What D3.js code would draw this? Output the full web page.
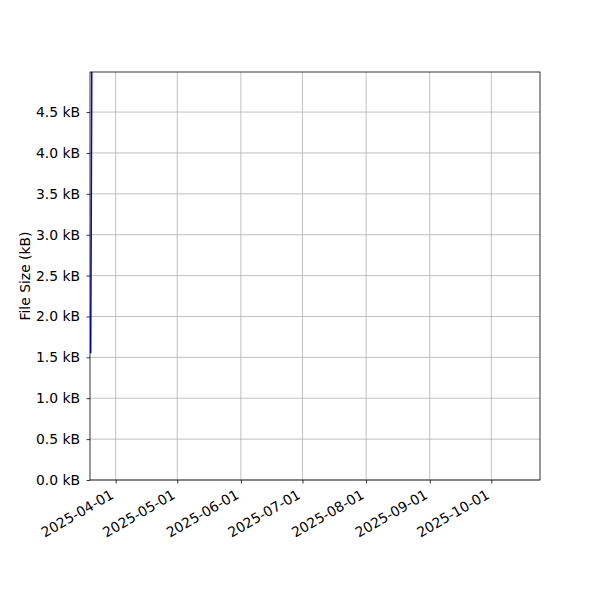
<!DOCTYPE html>
<html lang="en">
<head>
  <meta charset="utf-8">
  <title>File Size</title>
  <script src="https://cdn.jsdelivr.net/npm/d3@7"></script>
  <style>
    body { margin: 0; background: #fff; }
    text { font-family: "DejaVu Sans", sans-serif; }
  </style>
</head>
<body>
  <div class="chart"></div>
  <script>
    // data
    var dates = ["2025-03-19T20:00:00Z", "2025-03-20T02:00:00Z", "2025-03-20T09:00:00Z"];
    var sizes = [1.55, 3.0, 5.05];
    var xDomain = ["2025-03-19T12:00:00Z", "2025-10-24T17:00:00Z"];
    var yDomain = [0, 4.99];
    var yTicks = [0, 0.5, 1, 1.5, 2, 2.5, 3, 3.5, 4, 4.5];
    var xTicks = ["2025-04-01", "2025-05-01", "2025-06-01", "2025-07-01",
      "2025-08-01", "2025-09-01", "2025-10-01"];

    var w = 600, h = 600;
    // plot box (window.top is taken, so no bare "top")
    var pl = 90, pr = 540, pt = 72, pb = 480;
    var fs = 13.9;

    var svg = d3.select('.chart').append('svg')
      .attr('width', w).attr('height', h);

    var x = d3.scaleUtc()
      .domain(xDomain.map(function(d) { return new Date(d); }))
      .range([pl, pr]);
    var y = d3.scaleLinear().domain(yDomain).range([pb, pt]);

    // grid
    svg.append('g').selectAll('line')
      .data(xTicks).enter().append('line')
      .attr('x1', function(d) { return x(new Date(d)); })
      .attr('x2', function(d) { return x(new Date(d)); })
      .attr('y1', pt).attr('y2', pb)
      .attr('stroke', '#b0b0b0').attr('stroke-width', 0.8);
    svg.append('g').selectAll('line')
      .data(yTicks).enter().append('line')
      .attr('y1', function(d) { return y(d); })
      .attr('y2', function(d) { return y(d); })
      .attr('x1', pl).attr('x2', pr)
      .attr('stroke', '#b0b0b0').attr('stroke-width', 0.8);

    // line
    svg.append('clipPath').attr('id', 'clip')
      .append('rect').attr('x', pl).attr('y', pt)
      .attr('width', pr - pl).attr('height', pb - pt);

    var pts = dates.map(function(d, i) { return [new Date(d), sizes[i]]; });
    var line = d3.line()
      .x(function(d) { return x(d[0]); })
      .y(function(d) { return y(d[1]); });
    svg.append('path')
      .datum(pts)
      .attr('clip-path', 'url(#clip)')
      .attr('d', line)
      .attr('fill', 'none')
      .attr('stroke', '#0000ff')
      .attr('stroke-width', 1.5);

    // axes
    var fmt = d3.utcFormat('%Y-%m-%d');
    var xAxis = svg.append('g')
      .attr('transform', 'translate(0,' + pb + ')')
      .call(d3.axisBottom(x)
        .tickValues(xTicks.map(function(d) { return new Date(d); }))
        .tickFormat(fmt).tickSize(3.5).tickPadding(3.5));
    xAxis.selectAll('text')
      .attr('font-size', fs)
      .attr('fill', '#000')
      .attr('text-anchor', 'end')
      .attr('dy', null)
      .attr('y', 0)
      .attr('transform', 'translate(-1.5,' + (7 + 10.5) + ') rotate(-30)');

    var yAxis = svg.append('g')
      .attr('transform', 'translate(' + pl + ',0)')
      .call(d3.axisLeft(y).tickValues(yTicks)
        .tickFormat(function(d) { return d.toFixed(1) + ' kB'; })
        .tickSize(3.5).tickPadding(6.5));
    yAxis.selectAll('text').attr('font-size', fs).attr('fill', '#000');

    [xAxis, yAxis].forEach(function(a) {
      a.select('.domain').remove();
      a.selectAll('.tick line').attr('stroke', '#000').attr('stroke-width', 0.8);
    });

    // frame
    svg.append('rect')
      .attr('x', pl).attr('y', pt)
      .attr('width', pr - pl).attr('height', pb - pt)
      .attr('fill', 'none').attr('stroke', '#000').attr('stroke-width', 0.8);

    svg.append('text')
      .attr('transform', 'translate(30,' + ((pt + pb) / 2) + ') rotate(-90)')
      .attr('text-anchor', 'middle')
      .attr('font-size', fs)
      .text('File Size (kB)');
  </script>
</body>
</html>
